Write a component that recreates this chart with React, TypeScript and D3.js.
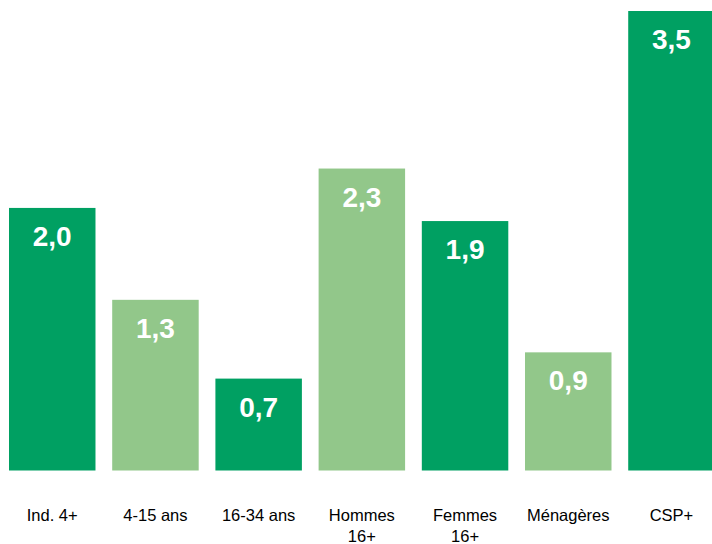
import React from "react";
import * as d3 from "d3";

const categories: string[][] = [
  ["Ind. 4+"],
  ["4-15 ans"],
  ["16-34 ans"],
  ["Hommes", "16+"],
  ["Femmes", "16+"],
  ["Ménagères"],
  ["CSP+"],
];
const values: number[] = [2.0, 1.3, 0.7, 2.3, 1.9, 0.9, 3.5];
const shades: string[] = ["dark", "light", "dark", "light", "dark", "light", "dark"];

const W = 712;
const H = 544;
const colorMap: Record<string, string> = { dark: "#00A062", light: "#92C78A" };

export default function App() {
  const keys = categories.map((c) => c.join(" "));
  const x = d3.scaleBand<string>().domain(keys).range([9, 714.7]).paddingInner(0.162).paddingOuter(0);
  const y = d3.scaleLinear().domain([0, 3.5]).range([470.5, 11]);
  const fmt = (v: number) => v.toFixed(1).replace(".", ",");
  return (
    <svg
      width={W}
      height={H}
      style={{ position: "fixed", left: 0, top: 0 }}
      fontFamily="'Liberation Sans', Arial, sans-serif"
    >
      <rect width={W} height={H} fill="#fff" />
      {keys.map((k, i) => {
        const x0 = x(k)!;
        const bw = x.bandwidth();
        const yt = y(values[i]);
        return (
          <g key={k}>
            <rect x={x0} y={yt} width={bw} height={y(0) - yt} fill={colorMap[shades[i]]} />
            <text
              x={x0 + bw / 2}
              y={yt + 38}
              textAnchor="middle"
              fill="#fff"
              fontWeight="bold"
              fontSize={28}
            >
              {fmt(values[i])}
            </text>
            {categories[i].map((line, j) => (
              <text
                key={j}
                x={x0 + bw / 2}
                y={521 + j * 20.5}
                textAnchor="middle"
                fill="#000"
                fontSize={16.5}
              >
                {line}
              </text>
            ))}
          </g>
        );
      })}
    </svg>
  );
}
